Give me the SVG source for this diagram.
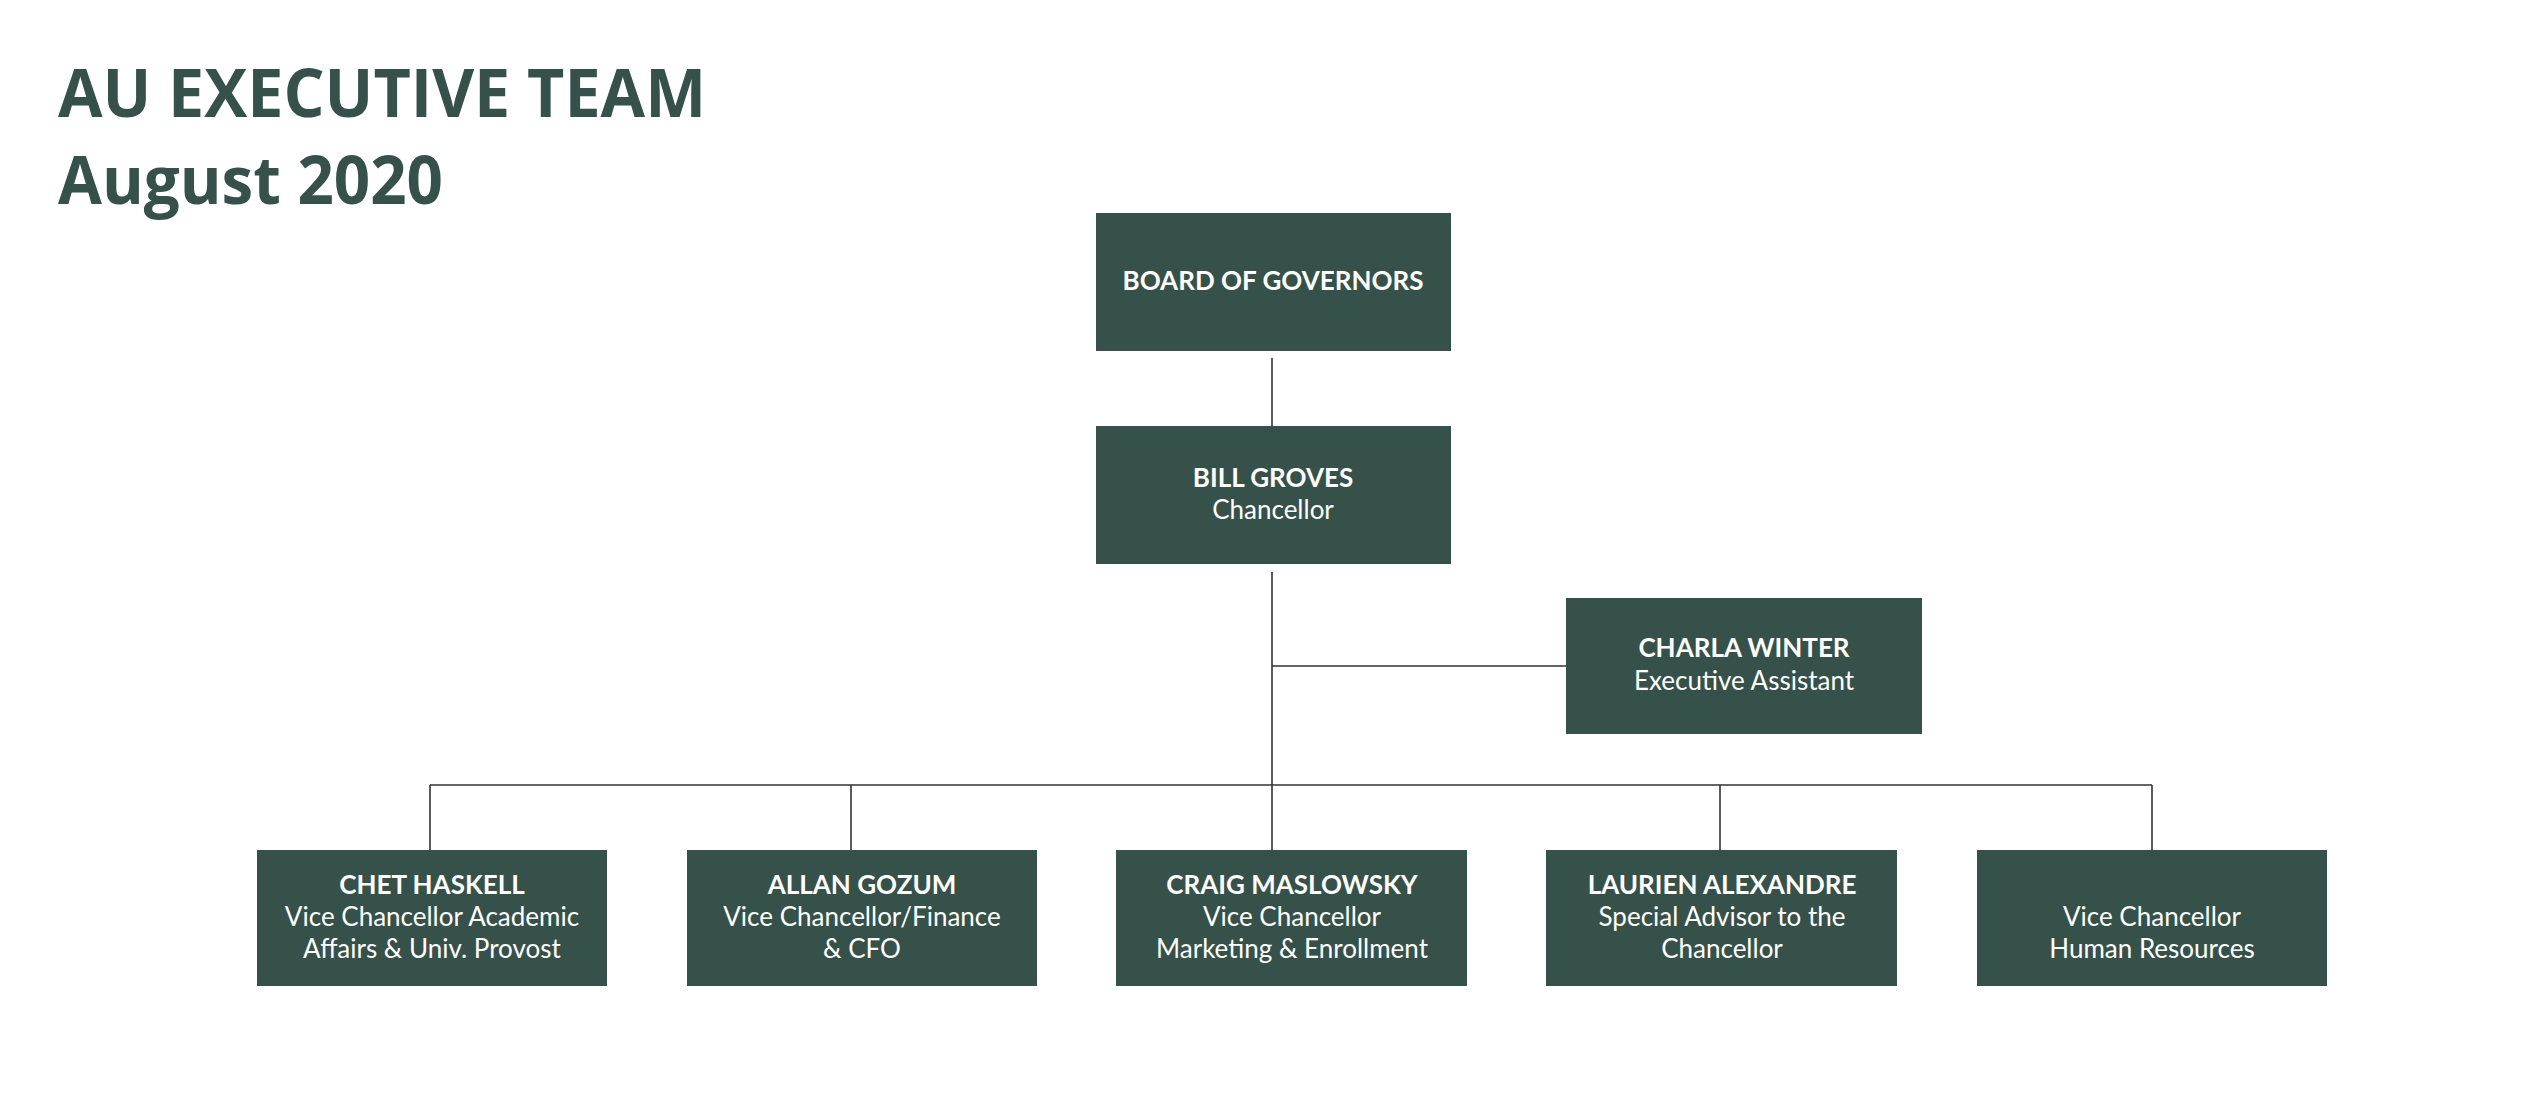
<svg xmlns="http://www.w3.org/2000/svg" width="2547" height="1107" viewBox="0 0 2547 1107">
<style>
.box{fill:#36514a}
.t{font-family:Lato,"Open Sans",sans-serif;font-size:26px;fill:#ffffff;text-anchor:middle}
.b{font-weight:bold}
.ttl{font-family:"Open Sans",Lato,sans-serif;font-weight:bold;font-size:66px;fill:#36514a}
.c{stroke:#333;stroke-width:1.6;fill:none}
</style>
<rect width="2547" height="1107" fill="#fff"/>
<text class="ttl" x="58" y="117" textLength="648" lengthAdjust="spacingAndGlyphs">AU EXECUTIVE TEAM</text>
<text class="ttl" x="58" y="204" textLength="385" lengthAdjust="spacingAndGlyphs">August 2020</text>
<g id="connectors">
<path class="c" d="M1272 358V426M1272 572V785M1272 666H1566M430 785H2152M430 785V850M851 785V850M1272 785V850M1720 785V850M2152 785V850"/>
</g>
<g id="board"><rect class="box" x="1096" y="213" width="355" height="138"/><text class="t b" x="1273" y="290">BOARD OF GOVERNORS</text></g>
<g id="groves"><rect class="box" x="1096" y="426" width="355" height="138"/><text class="t b" x="1273" y="487">BILL GROVES</text><text class="t" x="1273" y="519">Chancellor</text></g>
<g id="winter"><rect class="box" x="1566" y="598" width="356" height="136"/><text class="t b" x="1744" y="657">CHARLA WINTER</text><text class="t" x="1744" y="690">Executive Assistant</text></g>
<g id="haskell"><rect class="box" x="257" y="850" width="350" height="136"/><text class="t b" x="432" y="894">CHET HASKELL</text><text class="t" x="432" y="926">Vice Chancellor Academic</text><text class="t" x="432" y="958">Affairs &amp; Univ. Provost</text></g>
<g id="gozum"><rect class="box" x="687" y="850" width="350" height="136"/><text class="t b" x="862" y="894">ALLAN GOZUM</text><text class="t" x="862" y="926">Vice Chancellor/Finance</text><text class="t" x="862" y="958">&amp; CFO</text></g>
<g id="maslowsky"><rect class="box" x="1116" y="850" width="351" height="136"/><text class="t b" x="1292" y="894">CRAIG MASLOWSKY</text><text class="t" x="1292" y="926">Vice Chancellor</text><text class="t" x="1292" y="958">Marketing &amp; Enrollment</text></g>
<g id="alexandre"><rect class="box" x="1546" y="850" width="351" height="136"/><text class="t b" x="1722" y="894">LAURIEN ALEXANDRE</text><text class="t" x="1722" y="926">Special Advisor to the</text><text class="t" x="1722" y="958">Chancellor</text></g>
<g id="hr"><rect class="box" x="1977" y="850" width="350" height="136"/><text class="t" x="2152" y="926">Vice Chancellor</text><text class="t" x="2152" y="958">Human Resources</text></g>
</svg>
